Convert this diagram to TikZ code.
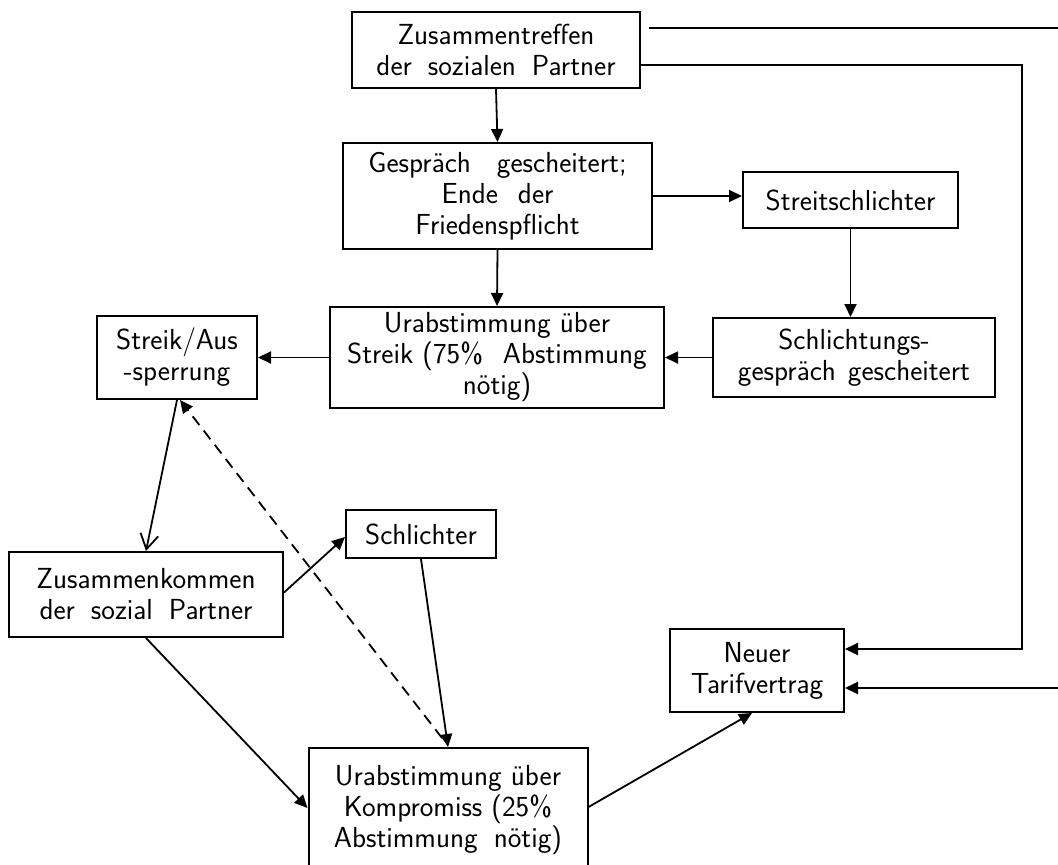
\documentclass[tikz,border=0pt]{standalone}
\usepackage{fontspec}
\usetikzlibrary{arrows.meta,calc}
\newcommand\ws{\hspace{16pt}}
\newcommand\wsw{\hspace{26pt}}
\begin{document}
\begin{tikzpicture}[x=1pt,y=-1pt,
  box/.style={draw,line width=2pt,rectangle,align=center,inner sep=1pt,
    font=\sffamily\fontsize{29}{31}\selectfont},
  conn/.style={line width=1.8pt,-{Triangle[length=13pt,width=12pt]}},
  openconn/.style={line width=1.8pt,-{Straight Barb[length=15pt,width=18pt,line width=1.8pt]}},
  plain/.style={line width=1.8pt}]
\useasboundingbox (0,0) rectangle (1058,865);
\node[box,minimum width=288pt,minimum height=76pt] (top) at (496,50) {Zusammentreffen\\der\ws sozialen\ws Partner};
\node[box,minimum width=309pt,minimum height=106pt] (gesp) at (497.5,196) {Gespräch\wsw gescheitert;\\Ende\hspace{20pt}der\\Friedenspflicht};
\node[box,minimum width=215pt,minimum height=56pt] (streit) at (850.5,200) {Streitschlichter};
\node[box,minimum width=334pt,minimum height=101pt] (urs) at (497,357.5) {Urabstimmung über\\Streik (75\%\hspace{20pt}Abstimmung\\nötig)};
\node[box,minimum width=282pt,minimum height=79pt] (schlg) at (854,357.5) {Schlichtungs-\\gespräch\hspace{12pt}gescheitert};
\node[box,minimum width=160pt,minimum height=83pt] (sa) at (177,357.5) {Streik/Aus\\-sperrung};
\node[box,minimum width=274pt,minimum height=85pt] (zk) at (146,594.5) {Zusammenkommen\\der\ws sozial\ws Partner};
\node[box,minimum width=150pt,minimum height=48pt] (schl) at (421,534) {Schlichter};
\node[box,minimum width=279pt,minimum height=124pt] (komp) at (448,810) {Urabstimmung über\\Kompromiss (25\%\\Abstimmung\ws nötig)};
\node[box,minimum width=174pt,minimum height=83pt] (neu) at (757,670.5) {Neuer\\Tarifvertrag};

\coordinate (e1) at (1060,28);
\coordinate (c2) at (1022,65);
\coordinate (e3) at (1060,688);

\draw[conn] (top.south) -- (gesp.north);
\draw[conn] (gesp.east) -- (gesp.east -| streit.west);
\draw[conn] (gesp.south) -- (urs.north);
\draw[conn] (streit.south) -- (streit.south |- schlg.north);
\draw[conn] (schlg.west) -- (urs.east);
\draw[conn] (urs.west) -- (sa.east);
\draw[openconn] (sa.south) -- (zk.north);
\draw[conn] ([yshift=2pt]zk.east) -- ([yshift=-3pt]schl.west);
\draw[conn] (schl.south) -- (komp.north);
\draw[conn] (zk.south) -- ([yshift=2pt]komp.west);
\draw[plain,dash pattern=on 11pt off 7pt,-{Triangle[length=13pt,width=12pt]}] ([xshift=-6pt,yshift=9pt]komp.north) -- ([xshift=3pt]sa.south);
\draw[conn] ([yshift=3pt]komp.east) -- ([xshift=-5pt]neu.south);
\draw[plain] ([xshift=8pt]top.east |- e1) -- (e1);
\draw[conn] (top.east |- c2) -- (c2) |- ([yshift=21.5pt]neu.east);
\draw[conn] (e3) -- (neu.east |- e3);
\end{tikzpicture}
\end{document}
